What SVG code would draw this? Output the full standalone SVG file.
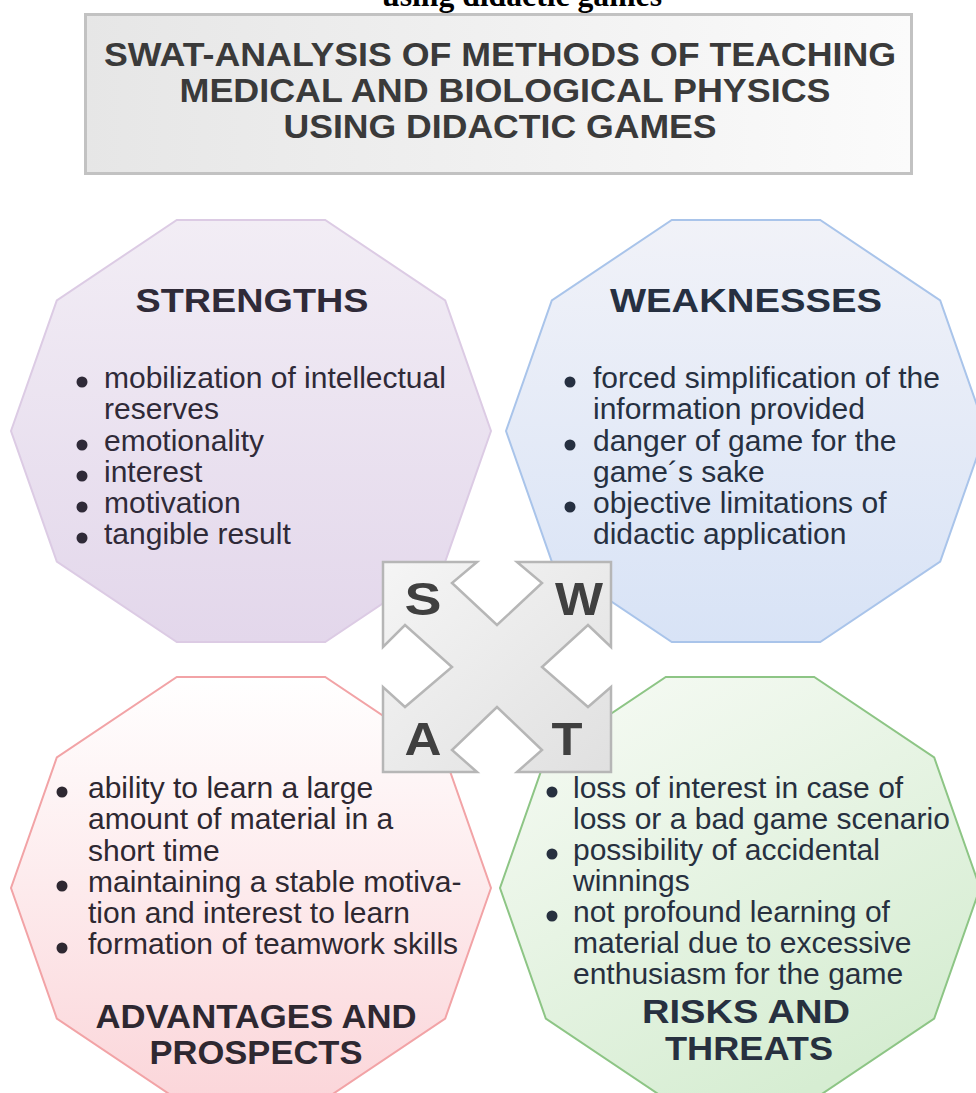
<svg xmlns="http://www.w3.org/2000/svg" xmlns:xlink="http://www.w3.org/1999/xlink" width="976" height="1093" viewBox="0 0 976 1093">
<defs>
<style>
.body{font-family:"Liberation Sans",Arial,sans-serif;font-size:30px}
.head{font-family:"Liberation Sans",Arial,sans-serif;font-size:34px;font-weight:bold;text-anchor:middle}
.title{font-family:"Liberation Sans",Arial,sans-serif;font-size:33px;font-weight:bold;text-anchor:middle;fill:#3a3a3a}
.letter{font-family:"Liberation Sans",Arial,sans-serif;font-size:46px;font-weight:bold;text-anchor:middle;fill:#404040}
.s{fill:#2f2a38}.w{fill:#263041}.a{fill:#2e2831}.t{fill:#27303f}
</style>
<linearGradient id="gS" x1="0" y1="0" x2="0" y2="1"><stop offset="0" stop-color="#f2edf5"/><stop offset="1" stop-color="#e3d7eb"/></linearGradient>
<linearGradient id="gW" x1="0" y1="0" x2="0" y2="1"><stop offset="0" stop-color="#f1f2f8"/><stop offset="1" stop-color="#d8e3f6"/></linearGradient>
<linearGradient id="gA" x1="0" y1="0" x2="0" y2="1"><stop offset="0" stop-color="#ffffff"/><stop offset="1" stop-color="#fbd6da"/></linearGradient>
<linearGradient id="gT" x1="0" y1="0" x2="0.6" y2="1"><stop offset="0" stop-color="#f8fbf6"/><stop offset="1" stop-color="#d6edd2"/></linearGradient>
<linearGradient id="gH" x1="0" y1="0" x2="1" y2="0"><stop offset="0" stop-color="#e6e6e6"/><stop offset="1" stop-color="#fbfbfb"/></linearGradient>
<linearGradient id="gC" x1="0" y1="0" x2="1" y2="1"><stop offset="0" stop-color="#f5f5f5"/><stop offset="1" stop-color="#e0e0e0"/></linearGradient>
<polygon id="deca" points="240,0 194.2,130.5 74.2,211.1 -74.2,211.1 -194.2,130.5 -240,0 -194.2,-130.5 -74.2,-211.1 74.2,-211.1 194.2,-130.5"/>
</defs>
<rect width="976" height="1093" fill="#ffffff"/>
<text x="382" y="6" font-family="'Liberation Serif','Times New Roman',serif" font-size="32" font-weight="bold" fill="#000" textLength="280" lengthAdjust="spacingAndGlyphs">using didactic games</text>
<g id="header">
<rect x="85.5" y="14.5" width="826" height="159" fill="url(#gH)" stroke="#c2c2c2" stroke-width="3"/>
<text class="title" x="500" y="66" textLength="792" lengthAdjust="spacingAndGlyphs">SWAT-ANALYSIS OF METHODS OF TEACHING</text>
<text class="title" x="505" y="102" textLength="651" lengthAdjust="spacingAndGlyphs">MEDICAL AND BIOLOGICAL PHYSICS</text>
<text class="title" x="500" y="138" textLength="433" lengthAdjust="spacingAndGlyphs">USING DIDACTIC GAMES</text>
</g>
<g id="strengths">
<use xlink:href="#deca" transform="translate(251,431)" fill="url(#gS)" stroke="#dccbe4" stroke-width="2"/>
<text class="head s" x="252" y="312" textLength="233" lengthAdjust="spacingAndGlyphs">STRENGTHS</text>
<g class="body s">
<circle cx="82" cy="382" r="5.5"/><text x="104" y="388">mobilization of intellectual</text>
<text x="104" y="419">reserves</text>
<circle cx="82" cy="445" r="5.5"/><text x="104" y="451">emotionality</text>
<circle cx="82" cy="476" r="5.5"/><text x="104" y="482">interest</text>
<circle cx="82" cy="507" r="5.5"/><text x="104" y="513">motivation</text>
<circle cx="82" cy="538" r="5.5"/><text x="104" y="544">tangible result</text>
</g>
</g>
<g id="weaknesses">
<use xlink:href="#deca" transform="translate(746,431)" fill="url(#gW)" stroke="#a9c4ea" stroke-width="2"/>
<text class="head w" x="746" y="312" textLength="272" lengthAdjust="spacingAndGlyphs">WEAKNESSES</text>
<g class="body w">
<circle cx="570" cy="382" r="5.5"/><text x="593" y="388">forced simplification of the</text>
<text x="593" y="419">information provided</text>
<circle cx="570" cy="445" r="5.5"/><text x="593" y="451">danger of game for the</text>
<text x="593" y="482">game´s sake</text>
<circle cx="570" cy="507" r="5.5"/><text x="593" y="513">objective limitations of</text>
<text x="593" y="544">didactic application</text>
</g>
</g>
<g id="advantages">
<use xlink:href="#deca" transform="translate(251,888)" fill="url(#gA)" stroke="#f2a3a6" stroke-width="2"/>
<g class="body a">
<circle cx="62" cy="792" r="5.5"/><text x="88" y="798">ability to learn a large</text>
<text x="88" y="829">amount of material in a</text>
<text x="88" y="861">short time</text>
<circle cx="62" cy="886" r="5.5"/><text x="88" y="892">maintaining a stable motiva-</text>
<text x="88" y="923">tion and interest to learn</text>
<circle cx="62" cy="948" r="5.5"/><text x="88" y="954">formation of teamwork skills</text>
</g>
<text class="head a" x="256" y="1028" textLength="321" lengthAdjust="spacingAndGlyphs">ADVANTAGES AND</text>
<text class="head a" x="256" y="1064" textLength="213" lengthAdjust="spacingAndGlyphs">PROSPECTS</text>
</g>
<g id="threats">
<use xlink:href="#deca" transform="translate(740,888)" fill="url(#gT)" stroke="#8dc585" stroke-width="2"/>
<g class="body t">
<circle cx="552" cy="792" r="5.5"/><text x="573" y="798">loss of interest in case of</text>
<text x="573" y="829">loss or a bad game scenario</text>
<circle cx="552" cy="854" r="5.5"/><text x="573" y="860">possibility of accidental</text>
<text x="573" y="891">winnings</text>
<circle cx="552" cy="916" r="5.5"/><text x="573" y="922">not profound learning of</text>
<text x="573" y="953">material due to excessive</text>
<text x="573" y="984">enthusiasm for the game</text>
</g>
<text class="head t" x="746" y="1023" textLength="208" lengthAdjust="spacingAndGlyphs">RISKS AND</text>
<text class="head t" x="749" y="1060" textLength="168" lengthAdjust="spacingAndGlyphs">THREATS</text>
</g>
<g id="connectors">
<path d="M383,562 L477,562 L452,583 L497,625 L542,583 L517,562 L611,562 L611,647 L588,625 L542,667 L588,707 L611,687 L611,772 L517,772 L542,750 L497,707 L452,750 L477,772 L383,772 L383,687 L405,707 L452,667 L405,625 L383,647 Z" fill="url(#gC)" stroke="#b6b6b6" stroke-width="2.5" stroke-linejoin="miter"/>
<text class="letter" x="423" y="615" textLength="37" lengthAdjust="spacingAndGlyphs">S</text>
<text class="letter" x="579" y="615" textLength="48" lengthAdjust="spacingAndGlyphs">W</text>
<text class="letter" x="423" y="755" textLength="37" lengthAdjust="spacingAndGlyphs">A</text>
<text class="letter" x="567" y="755" textLength="31" lengthAdjust="spacingAndGlyphs">T</text>
</g>
</svg>
